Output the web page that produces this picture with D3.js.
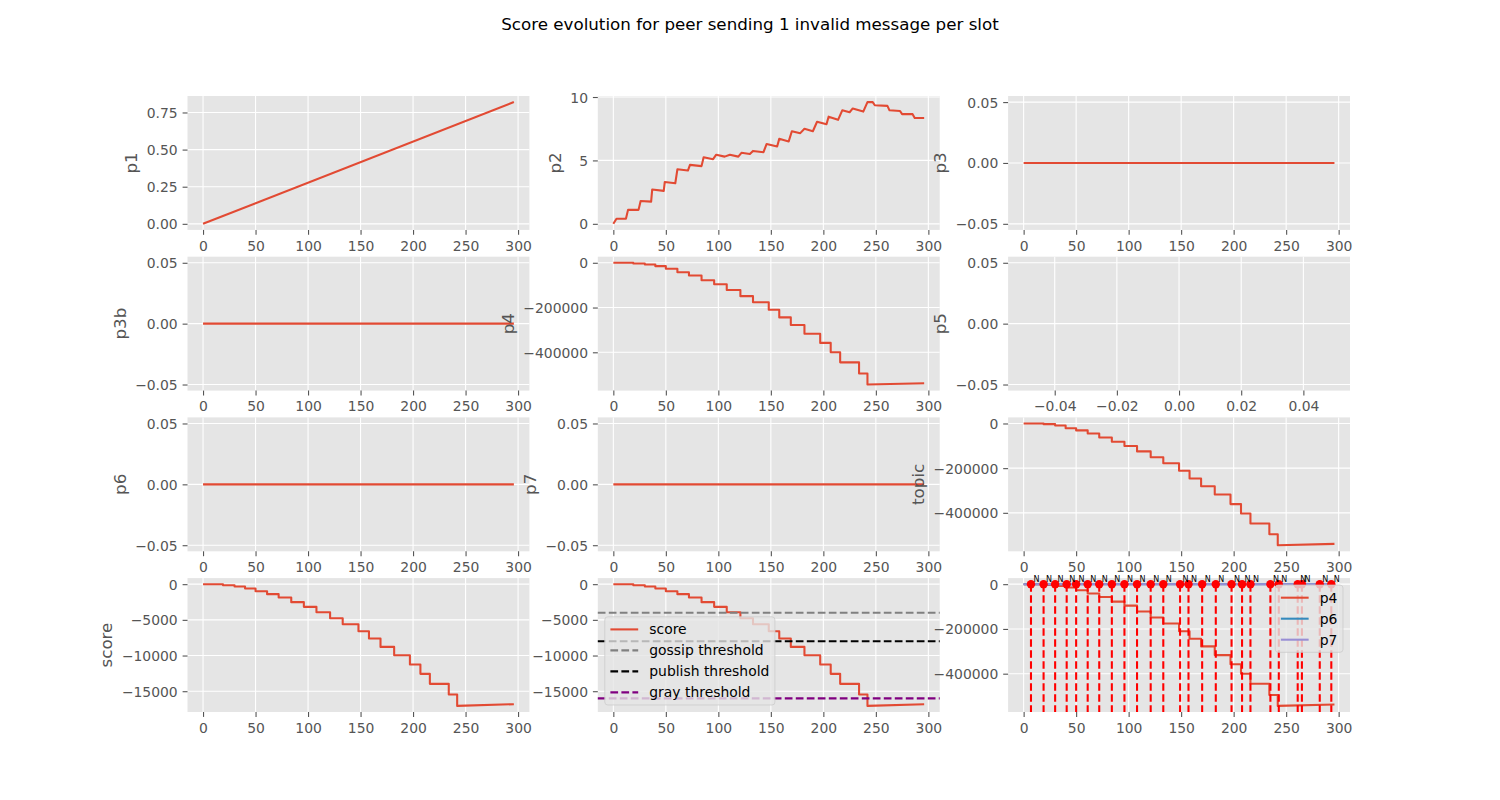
<!DOCTYPE html>
<html>
<head>
<meta charset="utf-8">
<script src="https://cdn.jsdelivr.net/npm/d3@7"></script>
<style>
body { margin: 0; background: white; }
text { font-family: "DejaVu Sans", sans-serif; }
</style>
</head>
<body>
<script>
// slot axis ticks
const slotTicks = [0, 50, 100, 150, 200, 250, 300];
const flatTicks = [-0.05, 0, 0.05];
const p5XTicks = [-0.04, -0.02, 0, 0.02, 0.04];
const p1Ticks = [0, 0.25, 0.5, 0.75];
const p2Ticks = [0, 5, 10];
const bigTicks = [0, -200000, -400000];
const scoreTicks = [0, -5000, -10000, -15000];

// p1 (time in mesh) - straight ramp
const p1Slots = [0, 296];
const p1Values = [0, 0.82];

// p2 (first message deliveries)
const p2Slots = [0, 3, 12, 14, 24, 26, 36, 37, 48, 49, 59, 61, 71, 73, 84, 86, 95, 98, 106, 111,
    119, 122, 130, 133, 143, 146, 156, 158, 167, 170, 178, 182, 190, 194, 203, 205, 214, 218, 225, 228,
    238, 242, 247, 249, 261, 263, 273, 275, 285, 287, 296];
const p2Values = [0, 0.4, 0.4, 1.1, 1.1, 1.8, 1.75, 2.7, 2.6, 3.3, 3.2, 4.3, 4.2, 4.65, 4.55, 5.25, 5.1, 5.45, 5.3, 5.45,
    5.3, 5.6, 5.5, 5.75, 5.65, 6.3, 6.1, 6.7, 6.5, 7.3, 7.15, 7.5, 7.3, 8.05, 7.85, 8.45, 8.2, 8.95, 8.8, 9.1,
    8.85, 9.6, 9.6, 9.35, 9.3, 8.95, 8.9, 8.65, 8.65, 8.35, 8.35];

// flat series (p3, p3b, p6, p7)
const flatSlots = [0, 296];
const flatValues = [0, 0];

// step series: slot where each level starts, last entry = final slot
const stepSlots = [0, 19, 30, 40, 50, 61, 72, 84, 96, 108, 121, 133, 148, 158, 169, 182, 197, 207, 216, 234, 242, 296];
const p4Values = [0, -3000, -7500, -15000, -27000, -42000, -57000, -78000, -96000, -122000, -149000,
    -176000, -210000, -244000, -278000, -317000, -358000, -400000, -445000, -495000, -544000, -538000];
const topicValues = [0, -3000, -9000, -21000, -31000, -45000, -63000, -82000, -101000, -125000, -151000,
    -178000, -212000, -246000, -281000, -318000, -361000, -403000, -448000, -496000, -545000, -539000];
const scoreValues = [0, -140, -330, -600, -980, -1400, -1870, -2520, -3180, -3930, -4770,
    -5610, -6590, -7620, -8790, -9950, -11260, -12570, -13970, -15470, -17060, -16820];

// thresholds
const thresholdNames = ["gossip threshold", "publish threshold", "gray threshold"];
const thresholdValues = [-4000, -8000, -16000];
const thresholdColors = ["gray", "black", "purple"];

// invalid message slots (marked with N)
const invalidSlots = [7, 19, 30, 41, 50, 61, 72, 84, 96, 108, 121, 133, 149, 157, 170, 183, 198, 208, 216,
    235, 243, 261, 265, 282, 293];

const red = '#E24A33', blue = '#348ABD', violet = '#988ED5';
const W = 1500, H = 800;
const figLeft = 187.5, figRight = 1350, figTop = 96, figBottom = 712;
const colW = (figRight - figLeft) / 3.4, colGap = colW * 0.2;
const rowH = (figBottom - figTop) / 4.6, rowGap = rowH * 0.2;
const slotDomain = [-14.8, 310.8];

const svg = d3.select('body').append('svg')
    .attr('width', W)
    .attr('height', H);

svg.append('text')
    .attr('x', W / 2).attr('y', 30)
    .attr('text-anchor', 'middle')
    .attr('font-size', 16.7)
    .attr('fill', 'black')
    .text('Score evolution for peer sending 1 invalid message per slot');

function pad(ext) {
    const m = (ext[1] - ext[0]) * 0.05;
    return [ext[0] - m, ext[1] + m];
}

function pairs(xs, ys) {
    return xs.map((s, i) => [s, ys[i]]);
}

// level i holds from stepSlots[i] to stepSlots[i+1], last segment drifts to the end value
function steps(xs, ys) {
    const pts = [];
    const n = xs.length;
    for (let i = 0; i < n - 1; i++) {
        pts.push([xs[i], ys[i]]);
        if (i < n - 2) pts.push([xs[i + 1], ys[i]]);
    }
    pts.push([xs[n - 1], ys[n - 1]]);
    return pts;
}

function makeAxes(row, col, xDom, yDom, xTicks, yTicks, xFmt, yFmt, label) {
    const x0 = figLeft + col * (colW + colGap);
    const y0 = figTop + row * (rowH + rowGap);
    const g = svg.append('g').attr('transform', `translate(${x0},${y0})`);
    const x = d3.scaleLinear().domain(xDom).range([0, colW]);
    const y = d3.scaleLinear().domain(yDom).range([rowH, 0]);

    g.append('rect').attr('width', colW).attr('height', rowH).attr('fill', '#E5E5E5');
    g.selectAll('.gx').data(xTicks).enter().append('line')
        .attr('x1', d => x(d)).attr('x2', d => x(d))
        .attr('y1', 0).attr('y2', rowH)
        .attr('stroke', 'white').attr('stroke-width', 1.1);
    g.selectAll('.gy').data(yTicks).enter().append('line')
        .attr('y1', d => y(d)).attr('y2', d => y(d))
        .attr('x1', 0).attr('x2', colW)
        .attr('stroke', 'white').attr('stroke-width', 1.1);

    const xa = g.append('g').attr('transform', `translate(0,${rowH})`)
        .call(d3.axisBottom(x).tickValues(xTicks).tickFormat(xFmt).tickSize(4.9).tickPadding(4.9));
    const ya = g.append('g')
        .call(d3.axisLeft(y).tickValues(yTicks).tickFormat(yFmt).tickSize(4.9).tickPadding(4.9));
    [xa, ya].forEach(a => {
        a.select('.domain').remove();
        a.attr('font-family', null).attr('font-size', null);
        a.selectAll('line').attr('stroke', '#555555').attr('stroke-width', 1.1);
        a.selectAll('text').attr('fill', '#555555').attr('font-size', 13.9);
    });
    xa.selectAll('text').attr('dy', '0.78em');
    ya.selectAll('text').attr('dy', '0.36em');

    const maxW = d3.max(ya.selectAll('text').nodes(), n => n.getComputedTextLength());
    const lx = -(9.8 + maxW + 5.6 + 3.8);
    g.append('text')
        .attr('transform', `translate(${lx},${rowH / 2}) rotate(-90)`)
        .attr('text-anchor', 'middle')
        .attr('font-size', 16.7)
        .attr('fill', '#555555')
        .text(label);

    return { g, x, y };
}

function drawLine(ax, pts, color, dash) {
    ax.g.append('path')
        .datum(pts)
        .attr('d', d3.line().x(d => ax.x(d[0])).y(d => ax.y(d[1])))
        .attr('fill', 'none')
        .attr('stroke', color)
        .attr('stroke-width', 2.08)
        .attr('stroke-dasharray', dash || null)
        .attr('stroke-linejoin', 'round');
}

function legend(ax, items, corner) {
    const fs = 13.9, bp = 5.6, hl = 27.8, hp = 11.1, rowStep = 21, rowT = 14;
    const lg = ax.g.append('g');
    const texts = items.map(it => lg.append('text').attr('font-size', fs).attr('fill', 'black').text(it.label));
    const tw = d3.max(texts, t => t.node().getComputedTextLength());
    const bw = bp * 2 + hl + hp + tw;
    const bh = bp * 2 + items.length * rowT + (items.length - 1) * 7;
    const bx = corner === 'upper right' ? colW - 7 - bw : 7;
    const by = corner === 'upper right' ? 7 : rowH - 7 - bh;
    lg.insert('rect', 'text')
        .attr('x', bx).attr('y', by).attr('width', bw).attr('height', bh)
        .attr('rx', 3)
        .attr('fill', 'rgba(229,229,229,0.8)')
        .attr('stroke', 'rgba(204,204,204,0.8)')
        .attr('stroke-width', 1);
    items.forEach((it, i) => {
        const cy = by + bp + rowT / 2 + i * rowStep;
        lg.append('line')
            .attr('x1', bx + bp).attr('x2', bx + bp + hl)
            .attr('y1', cy).attr('y2', cy)
            .attr('stroke', it.color).attr('stroke-width', 2.08)
            .attr('stroke-dasharray', it.dash || null);
        texts[i].attr('x', bx + bp + hl + hp).attr('y', cy).attr('dy', '0.36em');
    });
}

const fmtInt = d3.format('d');
const fmt2 = d3.format('.2f');
const flatDomain = [-0.055, 0.055];
const dash = '7.7,3.3';

// row 1
const a1 = makeAxes(0, 0, slotDomain, pad(d3.extent(p1Values)), slotTicks, p1Ticks, fmtInt, fmt2, 'p1');
drawLine(a1, pairs(p1Slots, p1Values), red);
const a2 = makeAxes(0, 1, slotDomain, pad(d3.extent(p2Values)), slotTicks, p2Ticks, fmtInt, fmtInt, 'p2');
drawLine(a2, pairs(p2Slots, p2Values), red);
const a3 = makeAxes(0, 2, slotDomain, flatDomain, slotTicks, flatTicks, fmtInt, fmt2, 'p3');
drawLine(a3, pairs(flatSlots, flatValues), red);

// row 2
const a4 = makeAxes(1, 0, slotDomain, flatDomain, slotTicks, flatTicks, fmtInt, fmt2, 'p3b');
drawLine(a4, pairs(flatSlots, flatValues), red);
const a5 = makeAxes(1, 1, slotDomain, pad(d3.extent(p4Values)), slotTicks, bigTicks, fmtInt, fmtInt, 'p4');
drawLine(a5, steps(stepSlots, p4Values), red);
makeAxes(1, 2, flatDomain, flatDomain, p5XTicks, flatTicks, fmt2, fmt2, 'p5');

// row 3
const a7 = makeAxes(2, 0, slotDomain, flatDomain, slotTicks, flatTicks, fmtInt, fmt2, 'p6');
drawLine(a7, pairs(flatSlots, flatValues), red);
const a8 = makeAxes(2, 1, slotDomain, flatDomain, slotTicks, flatTicks, fmtInt, fmt2, 'p7');
drawLine(a8, pairs(flatSlots, flatValues), red);
const a9 = makeAxes(2, 2, slotDomain, pad(d3.extent(topicValues)), slotTicks, bigTicks, fmtInt, fmtInt, 'topic');
drawLine(a9, steps(stepSlots, topicValues), red);

// row 4
const a10 = makeAxes(3, 0, slotDomain, pad(d3.extent(scoreValues)), slotTicks, scoreTicks, fmtInt, fmtInt, 'score');
drawLine(a10, steps(stepSlots, scoreValues), red);

const a11 = makeAxes(3, 1, slotDomain, pad(d3.extent(scoreValues)), slotTicks, scoreTicks, fmtInt, fmtInt, '');
drawLine(a11, steps(stepSlots, scoreValues), red);
thresholdValues.forEach((v, i) => {
    a11.g.append('line')
        .attr('x1', 0).attr('x2', colW)
        .attr('y1', a11.y(v)).attr('y2', a11.y(v))
        .attr('stroke', thresholdColors[i]).attr('stroke-width', 2.08)
        .attr('stroke-dasharray', dash);
});
legend(a11, [{ label: 'score', color: red }].concat(
    thresholdNames.map((n, i) => ({ label: n, color: thresholdColors[i], dash: dash }))), 'lower left');

const a12 = makeAxes(3, 2, slotDomain, pad(d3.extent(p4Values.concat([0]))), slotTicks, bigTicks, fmtInt, fmtInt, '');
drawLine(a12, steps(stepSlots, p4Values), red);
drawLine(a12, pairs(flatSlots, flatValues), blue);
drawLine(a12, pairs(flatSlots, flatValues), violet);
a12.g.selectAll('.vl').data(invalidSlots).enter().append('line')
    .attr('x1', d => a12.x(d)).attr('x2', d => a12.x(d))
    .attr('y1', a12.y(0)).attr('y2', rowH)
    .attr('stroke', 'red').attr('stroke-width', 2.08)
    .attr('stroke-dasharray', dash);
a12.g.selectAll('.mk').data(invalidSlots).enter().append('circle')
    .attr('cx', d => a12.x(d)).attr('cy', a12.y(0))
    .attr('r', 4.2)
    .attr('fill', 'red');
a12.g.selectAll('.nt').data(invalidSlots).enter().append('text')
    .attr('x', d => a12.x(d) + 2.5).attr('y', a12.y(0) - 2)
    .attr('font-size', 8)
    .attr('fill', 'black')
    .text('N');
legend(a12, [
    { label: 'p4', color: red },
    { label: 'p6', color: blue },
    { label: 'p7', color: violet }
], 'upper right');
</script>
</body>
</html>
